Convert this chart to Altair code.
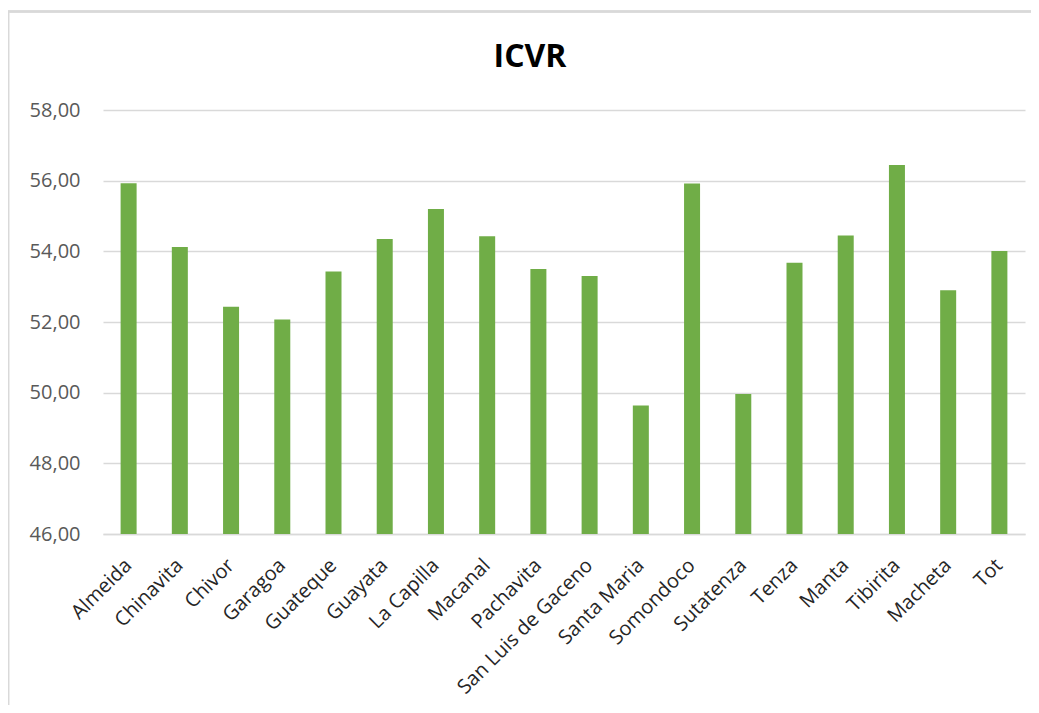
import altair as alt
import pandas as pd

categories = ["Almeida", "Chinavita", "Chivor", "Garagoa", "Guateque", "Guayata",
              "La Capilla", "Macanal", "Pachavita", "San Luis de Gaceno", "Santa Maria",
              "Somondoco", "Sutatenza", "Tenza", "Manta", "Tibirita", "Macheta", "Tot"]
values = [55.93, 54.12, 52.43, 52.07, 53.43, 54.35, 55.20, 54.43, 53.50, 53.30,
          49.64, 55.92, 49.96, 53.68, 54.45, 56.44, 52.90, 54.01]
y_ticks = [46, 48, 50, 52, 54, 56, 58]

df = pd.DataFrame({"Municipio": categories, "ICVR": values})

FONT = "Open Sans"
GRID = "#D9D9D9"

bars = alt.Chart(df).mark_bar(color="#70AD47", clip=True).encode(
    x=alt.X("Municipio:N", sort=categories,
            scale=alt.Scale(paddingInner=0.6875, paddingOuter=0.34375),
            axis=alt.Axis(title=None, labelAngle=-45, labelAlign="right",
                          labelBaseline="middle", labelPadding=28, ticks=False,
                          domain=True, domainColor=GRID, domainWidth=1.5,
                          labelLimit=400,
                          labelFont=FONT, labelFontSize=20, labelColor="#262626")),
    y=alt.Y("ICVR:Q", scale=alt.Scale(domain=[46, 58], nice=False, zero=False),
            axis=alt.Axis(title=None, values=y_ticks, ticks=False, domain=False,
                          gridColor=GRID, gridWidth=1.5, labelPadding=23,
                          labelFont=FONT, labelFontSize=20, labelColor="#595959",
                          labelExpr="replace(format(datum.value, '.2f'), '.', ',')")),
)

border_top = alt.Chart(df).mark_rule(color=GRID, strokeWidth=1.5).encode(
    x=alt.value(-95), x2=alt.value(928), y=alt.value(-98.5)
)
border_left = alt.Chart(df).mark_rule(color=GRID, strokeWidth=1.5).encode(
    x=alt.value(-94.7), y=alt.value(-98.5), y2=alt.value(595)
)

chart = alt.layer(border_top, border_left, bars).properties(
    width=922, height=424,
    autosize="none",
    padding={"left": 95, "top": 102, "right": 6, "bottom": 171},
    background="white",
    title=alt.TitleParams("ICVR", font=FONT, fontSize=32, fontWeight="bold",
                          color="#000000", anchor="middle", dx=-34, offset=-88,
                          baseline="alphabetic", frame="group"),
).configure_view(stroke=None)

chart.save("out.html", embed_options={"renderer": "svg", "actions": False})
